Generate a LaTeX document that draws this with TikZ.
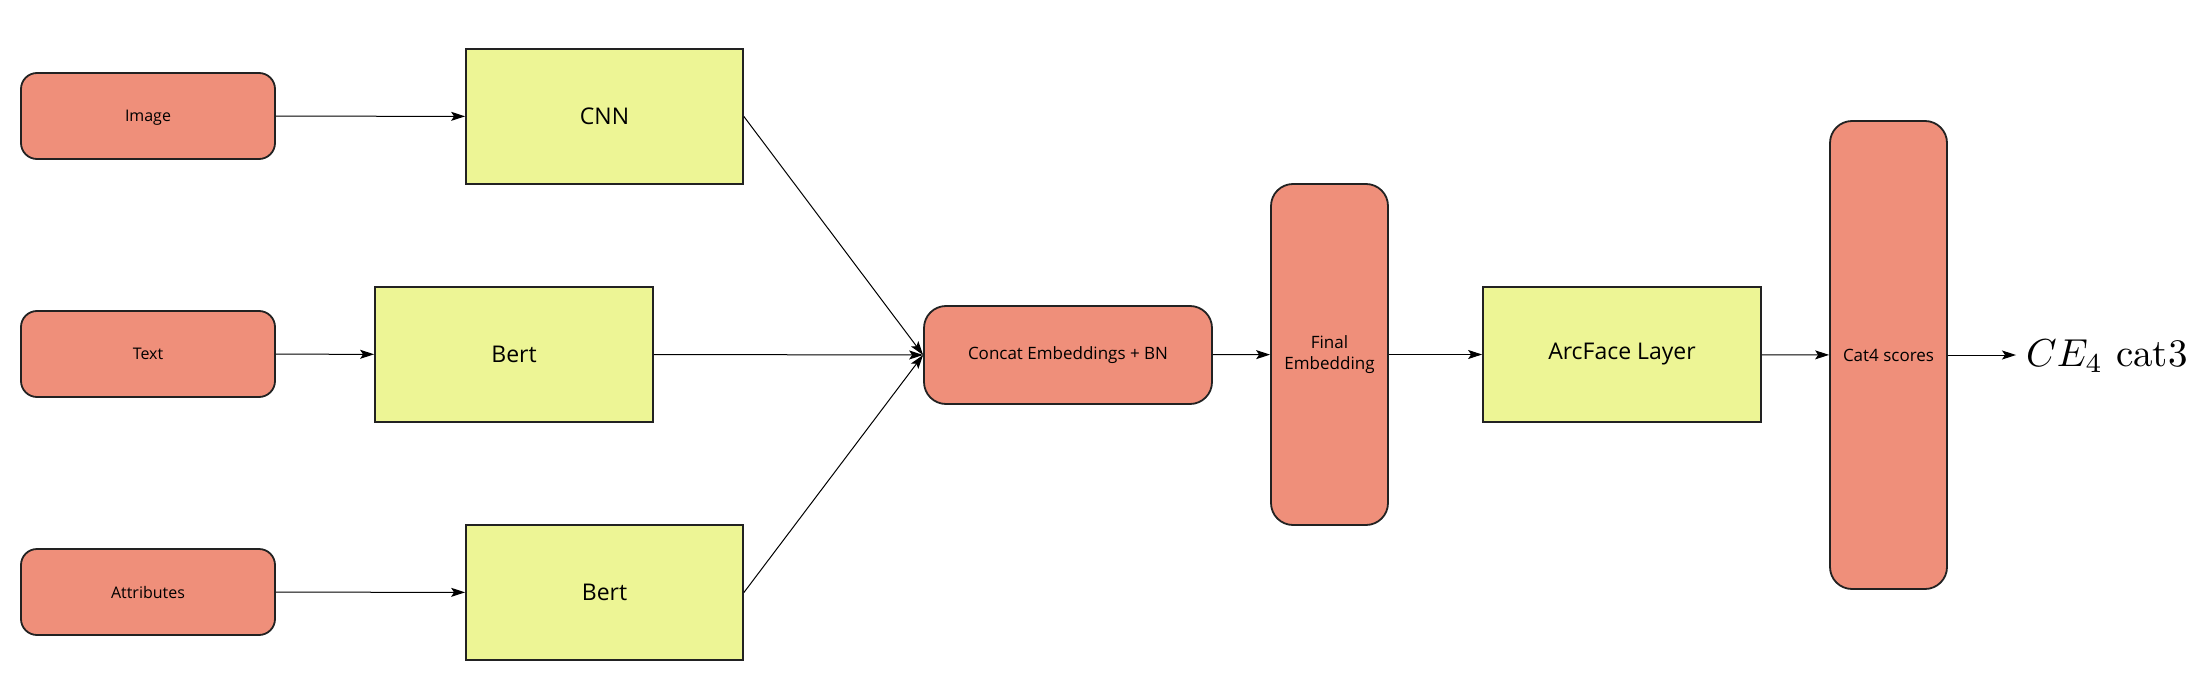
\documentclass[tikz,border=0pt]{standalone}
\usepackage{fontspec}
\newfontfamily\lbl{Open Sans}
\usetikzlibrary{arrows.meta}
\definecolor{salmon}{HTML}{EF8F7A}
\definecolor{lemon}{HTML}{EDF595}
\definecolor{edge}{HTML}{222222}
\tikzset{
  rbox/.style={draw=edge, line width=1.8pt, fill=salmon, rounded corners=16pt, align=center, font=\lbl\fontsize{17}{21}\selectfont, inner sep=0pt},
  ybox/.style={draw=edge, line width=1.8pt, fill=lemon, align=center, font=\lbl\fontsize{23}{28}\selectfont, inner sep=0pt},
  conn/.style={draw=black, line width=1pt, -{Stealth[length=14pt,width=9pt,inset=3pt]}}
}
\begin{document}
\begin{tikzpicture}[x=1pt,y=-1pt]
\useasboundingbox (0,0) rectangle (2208,698);
\node[rbox, minimum width=254pt, minimum height=86pt, font=\lbl\fontsize{16}{20}\selectfont, text depth=0pt] (img) at (148,116) {Image};
\node[rbox, minimum width=254pt, minimum height=86pt, font=\lbl\fontsize{16}{20}\selectfont] (txt) at (148,354) {Text};
\node[rbox, minimum width=254pt, minimum height=86pt, font=\lbl\fontsize{16}{20}\selectfont] (att) at (148,592) {Attributes};
\node[ybox, minimum width=277pt, minimum height=135pt] (cnn) at (604.5,116.5) {CNN};
\node[ybox, minimum width=278pt, minimum height=135pt] (bert1) at (514,354.5) {Bert};
\node[ybox, minimum width=277pt, minimum height=135pt] (bert2) at (604.5,592.5) {Bert};
\node[rbox, rounded corners=22pt, minimum width=288pt, minimum height=98pt] (concat) at (1068,355) {Concat Embeddings + BN};
\node[rbox, rounded corners=22pt, minimum width=117pt, minimum height=341pt] (final) at (1329.5,354.5) {Final\\Embedding};
\node[ybox, minimum width=278pt, minimum height=135pt] (arc) at (1622,354.5) {ArcFace Layer};
\node[rbox, rounded corners=22pt, minimum width=117pt, minimum height=468pt] (cat4) at (1888.5,355) {Cat4 scores};
\node[anchor=west, inner sep=0pt] (ce) at (2026,356) {\scalebox{3.9}{$CE_4$ cat3}};
\draw[conn] (img) -- (cnn);
\draw[conn] (txt) -- (bert1);
\draw[conn] (att) -- (bert2);
\draw[conn] (cnn.east) -- (concat.west);
\draw[conn] (bert1.east) -- (concat.west);
\draw[conn] (bert2.east) -- (concat.west);
\draw[conn] (concat) -- (final);
\draw[conn] (final) -- (arc);
\draw[conn] (arc) -- (cat4);
\draw[conn] (cat4.east) -- ([xshift=-10pt]ce.west |- cat4.east);
\end{tikzpicture}
\end{document}
